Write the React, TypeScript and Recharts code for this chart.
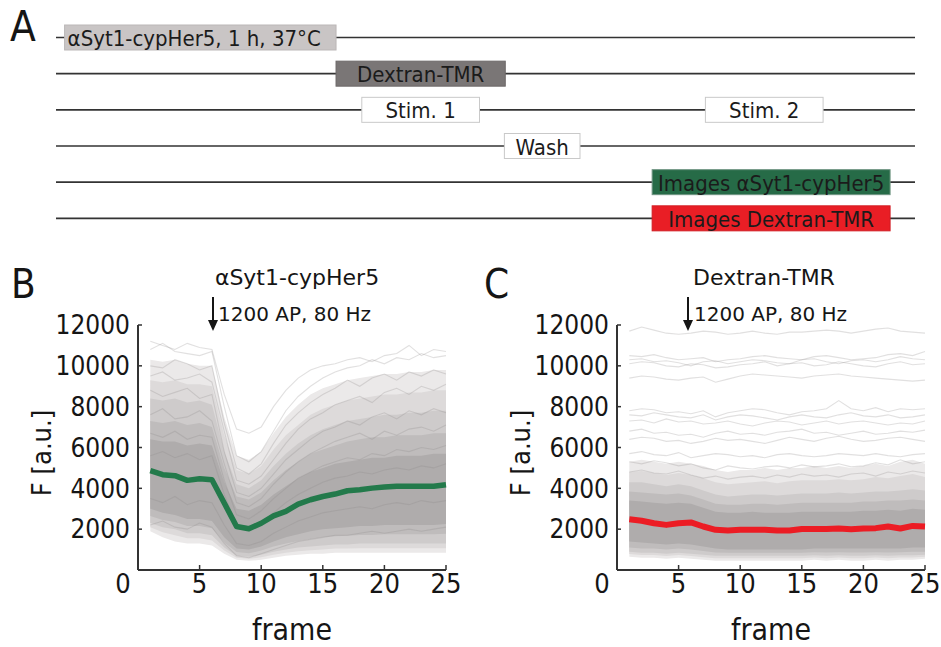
import React from "react";
import { BarChart, Bar, ComposedChart, Line, Area, XAxis, YAxis } from "recharts";

const FONT = "'DejaVu Sans Condensed', 'DejaVu Sans', sans-serif";
const FONT_REG = "'DejaVu Sans', sans-serif";
const INK = "#151515";

// ---- panel A: protocol timeline (0..100 schedule units) ----
const STEPS = ["load", "dextran", "stim", "wash", "imgSyt", "imgDex"];
const BOX_LABELS = [
  "αSyt1-cypHer5, 1 h, 37°C",
  "Dextran-TMR",
  "Stim. 1",
  "Wash",
  "Images αSyt1-cypHer5",
  "Images Dextran-TMR",
];
const BOX_START = [1.0, 32.6, 35.6, 52.2, 69.4, 69.4];
const BOX_END = [32.6, 52.3, 49.3, 61.0, 97.1, 97.1];
const EXTRA_LABELS = ["", "", "Stim. 2", "", "", ""];
const EXTRA_START = [null, null, 75.6, null, null, null];
const EXTRA_END = [null, null, 89.3, null, null, null];

const BOX_STYLE: Record<string, { fill: string; stroke: string; left?: boolean }> = {
  "αSyt1-cypHer5, 1 h, 37°C": { fill: "#c9c5c5", stroke: "#bbb7b7", left: true },
  "Dextran-TMR": { fill: "#7a7676", stroke: "#6c6868" },
  "Stim. 1": { fill: "#ffffff", stroke: "#c9c9c9" },
  "Stim. 2": { fill: "#ffffff", stroke: "#c9c9c9" },
  Wash: { fill: "#ffffff", stroke: "#c9c9c9" },
  "Images αSyt1-cypHer5": { fill: "#266b47", stroke: "#6f9482" },
  "Images Dextran-TMR": { fill: "#e91e25", stroke: "#d11c22" },
};

const timeline = STEPS.map((s, i) => ({
  step: s,
  label: BOX_LABELS[i],
  span: [BOX_START[i], BOX_END[i]],
  extraLabel: EXTRA_LABELS[i],
  extra: EXTRA_START[i] == null ? null : [EXTRA_START[i], EXTRA_END[i]],
}));

// ---- panels B / C: fluorescence per frame ----
const FRAMES = [1, 2, 3, 4, 5, 6, 7, 8, 9, 10, 11, 12, 13, 14, 15, 16, 17, 18, 19, 20, 21, 22, 23, 24, 25];
const X_TICKS = [0, 5, 10, 15, 20, 25];
const Y_TICKS = [2000, 4000, 6000, 8000, 10000, 12000];

// αSyt1-cypHer5 mean
const SYT_MEAN = [4870, 4670, 4620, 4390, 4470, 4420, 3280, 2130, 2020, 2290, 2650, 2870, 3230, 3440, 3600, 3720, 3880, 3930, 4010, 4060, 4100, 4100, 4100, 4100, 4180];
// αSyt1-cypHer5 spread of the single boutons, outer to inner
const SYT_P1_LO = [1900, 1600, 1400, 1300, 1300, 1200, 800, 500, 450, 500, 600, 700, 750, 800, 800, 850, 850, 850, 850, 850, 850, 850, 850, 850, 850];
const SYT_P1_HI = [10300, 10200, 10300, 10100, 10000, 10000, 7500, 5600, 5400, 5800, 6700, 7500, 8100, 8600, 8900, 9100, 9300, 9400, 9500, 9600, 9600, 9700, 9700, 9800, 9800];
const SYT_P5_LO = [2100, 1850, 1700, 1550, 1550, 1450, 950, 600, 550, 620, 750, 850, 920, 970, 1000, 1050, 1050, 1070, 1070, 1070, 1070, 1070, 1070, 1070, 1070];
const SYT_P5_HI = [9300, 9200, 9300, 9100, 9100, 9000, 6600, 4900, 4700, 5100, 5900, 6600, 7100, 7600, 7900, 8100, 8300, 8400, 8500, 8600, 8600, 8700, 8700, 8800, 8800];
const SYT_P10_LO = [2300, 2100, 2000, 1800, 1800, 1700, 1100, 700, 650, 750, 900, 1000, 1100, 1150, 1200, 1250, 1250, 1300, 1300, 1300, 1300, 1300, 1300, 1300, 1300];
const SYT_P10_HI = [8400, 8300, 8400, 8200, 8300, 8100, 5800, 4200, 4000, 4400, 5100, 5700, 6200, 6600, 6900, 7100, 7300, 7400, 7500, 7600, 7600, 7700, 7700, 7800, 7800];
const SYT_P20_LO = [2650, 2450, 2350, 2150, 2150, 2050, 1350, 880, 820, 950, 1150, 1300, 1420, 1520, 1600, 1650, 1680, 1720, 1720, 1750, 1750, 1750, 1750, 1750, 1770];
const SYT_P20_HI = [7300, 7200, 7300, 7100, 7200, 7000, 5000, 3600, 3450, 3800, 4400, 4900, 5300, 5700, 5900, 6100, 6300, 6400, 6500, 6500, 6600, 6600, 6600, 6700, 6700];
const SYT_P30_LO = [3000, 2800, 2700, 2500, 2500, 2400, 1600, 1050, 1000, 1150, 1400, 1600, 1750, 1900, 2000, 2050, 2100, 2150, 2150, 2200, 2200, 2200, 2200, 2200, 2250];
const SYT_P30_HI = [6400, 6300, 6300, 6100, 6200, 6100, 4300, 3000, 2900, 3200, 3700, 4100, 4500, 4800, 5000, 5200, 5300, 5400, 5500, 5500, 5600, 5600, 5600, 5700, 5700];
const SYT_TRACES = [
  [11200, 11000, 10800, 11100, 10900, 10800, 8600, 6900, 6700, 7000, 8000, 8800, 9400, 9800, 10000, 10100, 10300, 10400, 10200, 10500, 10600, 11000, 10500, 10800, 10700],
  [10800, 11100, 10700, 10600, 10500, 10700, 8000, 5600, 5300, 5800, 6800, 7800, 8500, 9000, 9400, 9700, 9900, 10000, 10300, 10100, 10400, 10300, 10600, 10400, 10500],
  [10000, 9900, 10300, 10100, 9800, 10000, 7200, 5000, 4700, 5200, 6200, 7100, 7700, 8200, 8600, 8900, 9300, 9000, 9400, 9600, 9300, 9700, 9500, 9800, 9600],
  [9500, 9700, 9300, 9400, 9600, 9200, 6800, 4400, 4200, 4600, 5400, 6200, 6900, 7400, 7700, 8100, 8300, 8500, 8200, 8700, 8900, 8600, 9000, 8800, 9100],
  [8800, 8500, 8700, 8900, 8400, 8600, 5800, 3800, 3600, 4000, 4700, 5400, 5900, 6400, 6800, 7000, 7300, 7100, 7500, 7700, 7400, 7800, 7600, 7900, 7700],
  [7600, 7900, 7400, 7500, 7800, 7300, 5200, 3300, 3100, 3500, 4200, 4800, 5300, 5700, 6000, 6300, 6500, 6700, 6400, 6800, 6600, 6900, 7000, 6800, 7100],
  [6700, 6500, 6800, 6400, 6600, 6500, 4400, 2700, 2500, 2900, 3500, 4000, 4500, 4800, 5100, 5300, 5500, 5400, 5700, 5600, 5900, 5800, 6000, 5900, 6100],
  [5600, 5800, 5500, 5700, 5400, 5600, 3700, 2200, 2000, 2300, 2800, 3300, 3700, 4000, 4300, 4500, 4600, 4800, 4700, 4900, 5000, 4900, 5100, 5000, 5200],
  [3500, 3300, 3600, 3200, 3400, 3300, 2200, 1300, 1200, 1400, 1800, 2100, 2400, 2600, 2800, 2900, 3000, 3100, 3000, 3200, 3300, 3200, 3400, 3300, 3400],
  [2200, 2400, 2100, 2000, 2300, 2100, 1300, 700, 600, 800, 1000, 1200, 1400, 1500, 1600, 1700, 1700, 1800, 1900, 1800, 1900, 2000, 1900, 2000, 2100],
];

// Dextran-TMR mean
const DEX_MEAN = [2490, 2410, 2290, 2210, 2290, 2330, 2130, 1970, 1930, 1970, 1970, 1970, 1930, 1930, 2010, 2010, 2010, 2030, 2000, 2030, 2050, 2130, 2030, 2160, 2130];
const DEX_P1_LO = [650, 600, 600, 550, 600, 550, 500, 450, 450, 450, 450, 450, 450, 450, 450, 500, 450, 500, 450, 450, 500, 450, 500, 500, 550];
const DEX_P1_HI = [5300, 5400, 5300, 5200, 5300, 5200, 5100, 4900, 4800, 4900, 4900, 5000, 4900, 5000, 5000, 5100, 5000, 5100, 5000, 5100, 5200, 5100, 5300, 5400, 5200];
const DEX_P5_LO = [780, 730, 730, 680, 730, 680, 630, 580, 580, 580, 580, 580, 580, 580, 580, 610, 580, 610, 580, 580, 610, 580, 610, 610, 650];
const DEX_P5_HI = [4800, 4850, 4750, 4650, 4750, 4650, 4500, 4300, 4200, 4250, 4300, 4350, 4250, 4350, 4400, 4400, 4400, 4450, 4400, 4450, 4550, 4500, 4600, 4700, 4550];
const DEX_P10_LO = [900, 850, 850, 800, 850, 800, 750, 700, 700, 700, 700, 700, 700, 700, 700, 720, 700, 720, 700, 700, 720, 700, 720, 720, 750];
const DEX_P10_HI = [4300, 4300, 4200, 4100, 4200, 4100, 3900, 3700, 3600, 3650, 3700, 3700, 3650, 3700, 3750, 3750, 3750, 3800, 3750, 3800, 3850, 3850, 3900, 3950, 3900];
const DEX_P20_LO = [1100, 1050, 1050, 1000, 1050, 1000, 930, 860, 840, 840, 840, 840, 840, 840, 840, 870, 860, 870, 860, 860, 870, 860, 870, 890, 900];
const DEX_P20_HI = [3850, 3800, 3750, 3700, 3750, 3650, 3450, 3250, 3200, 3200, 3250, 3250, 3200, 3250, 3300, 3300, 3300, 3300, 3300, 3350, 3350, 3400, 3400, 3450, 3400];
const DEX_P30_LO = [1400, 1350, 1300, 1250, 1300, 1250, 1150, 1050, 1000, 1000, 1000, 1000, 1000, 1000, 1000, 1050, 1050, 1050, 1050, 1050, 1050, 1050, 1050, 1100, 1100];
const DEX_P30_HI = [3400, 3350, 3300, 3250, 3300, 3250, 3050, 2850, 2800, 2800, 2850, 2800, 2800, 2800, 2850, 2850, 2850, 2850, 2850, 2900, 2900, 2950, 2900, 3000, 2950];
const DEX_TRACES = [
  [11700, 11900, 11750, 11600, 11550, 11600, 11700, 11650, 11550, 11600, 11700, 11600, 11550, 11650, 11650, 11700, 11750, 11700, 11600, 11700, 11800, 11850, 11700, 11650, 11600],
  [10500, 10450, 10550, 10400, 10300, 10350, 10400, 10200, 10300, 10350, 10450, 10500, 10400, 10350, 10300, 10450, 10500, 10400, 10300, 10350, 10400, 10550, 10600, 10500, 10700],
  [10300, 10350, 10200, 10250, 10150, 10000, 10200, 10250, 10100, 10200, 10300, 10250, 10150, 10100, 10300, 10350, 10200, 10100, 10250, 10300, 10200, 10300, 10450, 10350, 10300],
  [10100, 10200, 10150, 10000, 9950, 10100, 10050, 9900, 9950, 10050, 10100, 10200, 10000, 10100, 10150, 10000, 10050, 10200, 10100, 10000, 9950, 10100, 10200, 10050, 10100],
  [9400, 9500, 9450, 9350, 9300, 9400, 9450, 9200, 9350, 9500, 9600, 9550, 9500, 9450, 9400, 9500, 9550, 9600, 9500, 9450, 9400, 9350, 9300, 9250, 9300],
  [7800, 7900, 7850, 7700, 7750, 7650, 7800, 7500, 7700, 7800, 7900, 7850, 7700, 7600, 7750, 7800, 7900, 8300, 7900, 7800, 7950, 7750, 7900, 7850, 7900],
  [7600, 7550, 7700, 7600, 7500, 7450, 7600, 7350, 7500, 7600, 7550, 7450, 7350, 7500, 7600, 7500, 7450, 7600, 7700, 7550, 7500, 7600, 7450, 7500, 7600],
  [7300, 7350, 7200, 7400, 7250, 7300, 7150, 7200, 7300, 7150, 7050, 7200, 7300, 7250, 7100, 7200, 7300, 7150, 7250, 7300, 7200, 7100, 7200, 7150, 7300],
  [6800, 6900, 6700, 6750, 6600, 6650, 6500, 6700, 6800, 6650, 6700, 6600, 6750, 6800, 6900, 6700, 6750, 6600, 6700, 6800, 6650, 6700, 6800, 6750, 6850],
  [6400, 6500, 6450, 6300, 6350, 6200, 6300, 6450, 6350, 6400, 6300, 6200, 6350, 6500, 6400, 6300, 6450, 6550, 6400, 6300, 6350, 6450, 6500, 6400, 6300],
  [5700, 5800, 5650, 5600, 5750, 5500, 5600, 5700, 5650, 5550, 5600, 5500, 5650, 5700, 5600, 5550, 5600, 5700, 5650, 5600, 5700, 5600, 5550, 5650, 5700],
  [5300, 5200, 5350, 5250, 5100, 5200, 5000, 4900, 5100, 5000, 4950, 5050, 5100, 5000, 5150, 5050, 5100, 5200, 5050, 5100, 5250, 5150, 5400, 5200, 5300],
  [4800, 4900, 4750, 4700, 4850, 4650, 4500, 4600, 4450, 4550, 4600, 4500, 4650, 4550, 4700, 4600, 4650, 4550, 4700, 4750, 4600, 4800, 4700, 4850, 4750],
];

const SYT_BANDS = [SYT_P1_LO, SYT_P1_HI, SYT_P5_LO, SYT_P5_HI, SYT_P10_LO, SYT_P10_HI, SYT_P20_LO, SYT_P20_HI, SYT_P30_LO, SYT_P30_HI];
const DEX_BANDS = [DEX_P1_LO, DEX_P1_HI, DEX_P5_LO, DEX_P5_HI, DEX_P10_LO, DEX_P10_HI, DEX_P20_LO, DEX_P20_HI, DEX_P30_LO, DEX_P30_HI];
const BAND_COLORS = ["#ebe9e9", "#dddada", "#cecbcb", "#bfbcbc", "#afacac"];

function buildRows(mean: number[], bands: number[][], traces: number[][]) {
  return FRAMES.map((f, i) => {
    const row: any = { frame: f, mean: mean[i] };
    bands.forEach((b, j) => (row["b" + j] = b[i]));
    traces.forEach((t, j) => (row["t" + j] = t[i]));
    return row;
  });
}

const sytRows = buildRows(SYT_MEAN, SYT_BANDS, SYT_TRACES);
const dexRows = buildRows(DEX_MEAN, DEX_BANDS, DEX_TRACES);

const makeBoxShape = (labelKey: string) => (props: any) => {
  const { x, y, width, height, payload } = props;
  const label = payload && payload[labelKey];
  if (!label || !width) return <g />;
  const st = BOX_STYLE[label];
  return (
    <g>
      <rect x={x} y={y} width={width} height={height} fill={st.fill} stroke={st.stroke} strokeWidth={1} />
      <text
        x={st.left ? x + 3 : x + width / 2}
        y={y + height / 2 + 1}
        dominantBaseline="central"
        textAnchor={st.left ? "start" : "middle"}
        fontSize={22}
        fontFamily={FONT}
        fill="#1b1b1b"
      >
        {label}
      </text>
    </g>
  );
};

const RowLine = (props: any) => {
  const { x, y, width, height } = props;
  return <line x1={x} x2={x + width} y1={y + height / 2} y2={y + height / 2} stroke="#333" strokeWidth={1.6} />;
};

const FrameTick = (props: any) => {
  const { x, y, payload } = props;
  const dx = payload.value === 0 ? -15 : 0;
  return (
    <text x={x + dx} y={y} dy="0.71em" textAnchor="middle" fontSize={27} fontFamily={FONT} fill={INK}>
      {payload.value}
    </text>
  );
};

function TracePanel({ rows, meanColor, meanWidth, nTraces }: any) {
  const traceKeys = Array.from({ length: nTraces }, (_, j) => "t" + j);
  return (
    <ComposedChart width={470} height={340} data={rows} margin={{ top: 25, right: 24, bottom: 0, left: 0 }}>
      <XAxis
        type="number"
        dataKey="frame"
        domain={[0, 25]}
        ticks={X_TICKS}
        tick={<FrameTick />}
        tickSize={-5}
        tickMargin={9}
        height={70}
        axisLine={{ stroke: "#333", strokeWidth: 2 }}
        tickLine={{ stroke: "#333", strokeWidth: 1.5 }}
      />
      <YAxis
        type="number"
        domain={[0, 12000]}
        ticks={Y_TICKS}
        width={138}
        tickSize={-4}
        tickMargin={12}
        tick={{ fontSize: 26, fontFamily: FONT, fill: INK }}
        axisLine={{ stroke: "#333", strokeWidth: 2 }}
        tickLine={{ stroke: "#333", strokeWidth: 1.5 }}
      />
      {BAND_COLORS.map((c, k) => (
        <Area
          key={"band" + k}
          name={"band" + k}
          type="linear"
          dataKey={(d: any) => [d["b" + 2 * k], d["b" + (2 * k + 1)]]}
          stroke="none"
          fill={c}
          fillOpacity={1}
          dot={false}
          activeDot={false}
          isAnimationActive={false}
        />
      ))}
      {traceKeys.map((k) => (
        <Line
          key={k}
          type="linear"
          dataKey={k}
          stroke="#8c8787"
          strokeOpacity={0.26}
          strokeWidth={1.1}
          dot={false}
          activeDot={false}
          isAnimationActive={false}
        />
      ))}
      <Line
        type="linear"
        dataKey="mean"
        stroke={meanColor}
        strokeWidth={meanWidth}
        strokeLinejoin="round"
        dot={false}
        activeDot={false}
        isAnimationActive={false}
      />
    </ComposedChart>
  );
}

export default function App() {
  return (
    <div style={{ position: "absolute", left: 0, top: 0, width: 941, height: 647, background: "#fff" }}>
      <div style={{ position: "absolute", left: 0, top: 0 }}>
        <BarChart
          width={941}
          height={240}
          data={timeline}
          layout="vertical"
          barSize={25}
          barGap={-25}
          margin={{ top: 19, right: 26, left: 56, bottom: 4 }}
        >
          <XAxis type="number" domain={[0, 100]} hide />
          <YAxis type="category" dataKey="step" hide />
          <Bar dataKey="span" shape={makeBoxShape("label")} background={RowLine} isAnimationActive={false} />
          <Bar dataKey="extra" shape={makeBoxShape("extraLabel")} isAnimationActive={false} />
        </BarChart>
      </div>
      <div style={{ position: "absolute", left: 0, top: 300 }}>
        <TracePanel rows={sytRows} meanColor="#237a4b" meanWidth={5.5} nTraces={SYT_TRACES.length} />
      </div>
      <div style={{ position: "absolute", left: 479, top: 300 }}>
        <TracePanel rows={dexRows} meanColor="#ec1c24" meanWidth={6} nTraces={DEX_TRACES.length} />
      </div>
      <svg width={941} height={647} style={{ position: "absolute", left: 0, top: 0, pointerEvents: "none" }}>
        <g fill={INK}>
          <text x={10} y={41} fontSize={42} fontFamily={FONT}>A</text>
          <text x={11} y={298} fontSize={40} fontFamily={FONT}>B</text>
          <text x={484} y={298} fontSize={40} fontFamily={FONT}>C</text>

          <text x={297} y={285} fontSize={22} fontFamily={FONT_REG} textAnchor="middle">αSyt1-cypHer5</text>
          <text x={764} y={285} fontSize={22} fontFamily={FONT_REG} textAnchor="middle">Dextran-TMR</text>

          <text x={218} y={321} fontSize={20} fontFamily={FONT_REG}>1200 AP, 80 Hz</text>
          <text x={694} y={321} fontSize={20} fontFamily={FONT_REG}>1200 AP, 80 Hz</text>

          <text transform="translate(51,453) rotate(-90)" fontSize={27} fontFamily={FONT} textAnchor="middle">F [a.u.]</text>
          <text transform="translate(530,453) rotate(-90)" fontSize={27} fontFamily={FONT} textAnchor="middle">F [a.u.]</text>

          <text x={292} y={640} fontSize={30} fontFamily={FONT} textAnchor="middle">frame</text>
          <text x={771} y={640} fontSize={30} fontFamily={FONT} textAnchor="middle">frame</text>
        </g>
        <g stroke={INK} strokeWidth={2} fill={INK}>
          <line x1={213} x2={213} y1={297} y2={322} />
          <polygon points="208,320 218,320 213,331" stroke="none" />
          <line x1={688} x2={688} y1={297} y2={322} />
          <polygon points="683,320 693,320 688,331" stroke="none" />
        </g>
      </svg>
    </div>
  );
}
